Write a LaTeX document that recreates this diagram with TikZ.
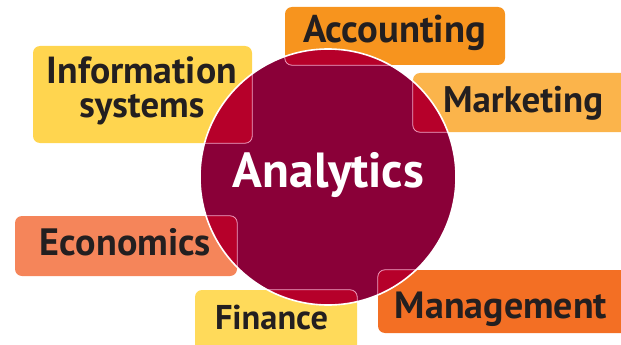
\documentclass[tikz,border=0pt]{standalone}
\usepackage{fontspec}
\setmainfont{PT Sans}
\usepackage{graphicx}
\definecolor{cCirc}{HTML}{8A0038}
\definecolor{cOvl}{HTML}{B6002A}
\definecolor{cPink}{HTML}{F2A3C4}
\definecolor{cAcc}{HTML}{F7941E}
\definecolor{cMkt}{HTML}{FBB44B}
\definecolor{cInfo}{HTML}{FFD54F}
\definecolor{cEco}{HTML}{F5855A}
\definecolor{cFin}{HTML}{FFDA5A}
\definecolor{cMgt}{HTML}{F36F24}
\definecolor{cTxt}{HTML}{231F20}
\newcommand{\fitw}[2]{\resizebox{#1}{!}{#2}}
\begin{document}
\begin{tikzpicture}[x=1pt,y=-1pt,
  box/.style={rectangle, rounded corners=7pt, inner sep=0pt},
  lbl/.style={anchor=base, inner sep=0pt, text=cTxt, font=\bfseries\fontsize{36}{33}\selectfont},
  ovl/.style={fill=cOvl, draw=cPink, line width=0.8pt, rounded corners=7pt}]
\useasboundingbox (0,0) rectangle (621,345);
% boxes
\node[box, fill=cAcc, minimum width=220pt, minimum height=58pt] (acc) at (395,36) {};
\node[box, fill=cMkt, minimum width=227pt, minimum height=59pt] (mkt) at (526.5,102.5) {};
\node[box, fill=cInfo, minimum width=219pt, minimum height=97pt] (info) at (142.5,94.5) {};
\node[box, fill=cEco, minimum width=222pt, minimum height=60pt] (eco) at (126,246) {};
\node[box, fill=cFin, minimum width=162pt, minimum height=70pt] (fin) at (276,325) {};
\node[box, fill=cMgt, minimum width=262pt, minimum height=63pt] (mgt) at (509,301.5) {};
% circle
\node[circle, fill=cCirc, minimum size=256pt, inner sep=0pt] (ana) at (328,177) {};
% overlaps
\begin{scope}
  \clip (ana.center) circle (128pt);
  \foreach \b in {acc,mkt,info,eco,fin,mgt}{
    \path[ovl] (\b.south west) rectangle (\b.north east);
  }
\end{scope}
\draw[white, line width=1.6pt] (ana.center) circle (128pt);
% labels
\node[lbl] (accT) at (394.5,43) {\fitw{183pt}{Accounting}};
\node[lbl] (mktT) at (523,112) {\fitw{160pt}{Marketing}};
\node[lbl, align=center] (infoT) at (141.8,117) {\fitw{190pt}{Information}\\\fitw{125pt}{systems}};
\node[lbl] (ecoT) at (125.5,255) {\fitw{171pt}{Economics}};
\node[lbl] (finT) at (271.5,329) {\fitw{113pt}{Finance}};
\node[lbl] (mgtT) at (501,318) {\fitw{212pt}{Management}};
\node[lbl, text=white] (anaT) at (328.5,187) {\fitw{191pt}{Analytics}};
\end{tikzpicture}
\end{document}
